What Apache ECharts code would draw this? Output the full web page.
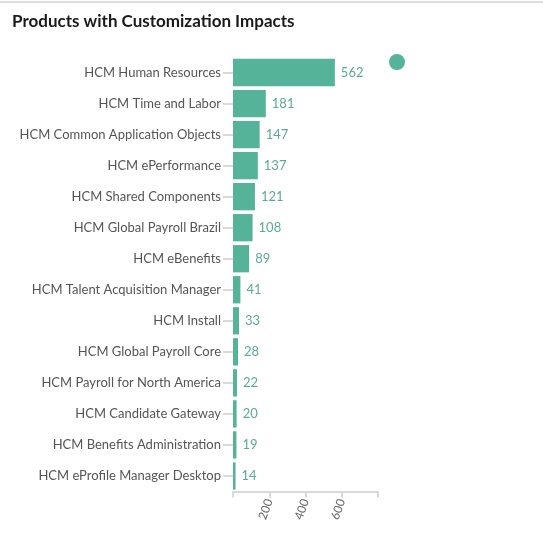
<!DOCTYPE html>
<html>
<head>
<meta charset="utf-8">
<script src="https://cdn.jsdelivr.net/npm/echarts@6/dist/echarts.min.js"></script>
<style>
    html, body { margin: 0; padding: 0; background: #fff; }
    #echarts { width: 543px; height: 549px; }
</style>
</head>
<body>
<div id="echarts"></div>
<script>
    // 数据
    const categories = [
        'HCM Human Resources', 'HCM Time and Labor', 'HCM Common Application Objects',
        'HCM ePerformance', 'HCM Shared Components', 'HCM Global Payroll Brazil',
        'HCM eBenefits', 'HCM Talent Acquisition Manager', 'HCM Install',
        'HCM Global Payroll Core', 'HCM Payroll for North America', 'HCM Candidate Gateway',
        'HCM Benefits Administration', 'HCM eProfile Manager Desktop'
    ];
    const values = [562, 181, 147, 137, 121, 108, 89, 41, 33, 28, 22, 20, 19, 14];
    const xTicks = [0, 200, 400, 600, 800];

    let myChart = echarts.init(document.getElementById('echarts'));
    myChart.setOption({
        animation: false,
        title: {
            text: 'Products with Customization Impacts',
            left: 7, top: 8,
            textStyle: { fontFamily: 'Lato', fontSize: 17, fontWeight: 'bold', color: '#1a1a1a' }
        },
        graphic: [
            { type: 'line', shape: { x1: 0, y1: 2, x2: 543, y2: 2 }, style: { stroke: '#ddd', lineWidth: 2 } },
            { type: 'circle', shape: { cx: 397, cy: 62, r: 8 }, style: { fill: '#55b399' } }
        ],
        grid: { left: 233, right: 165, top: 57, bottom: 57.5 },
        xAxis: {
            type: 'value', min: 0, max: 800, interval: 200,
            axisLine: { show: true, lineStyle: { color: '#d9d9d9', width: 2 } },
            axisTick: { show: true, length: 6, lineStyle: { color: '#d9d9d9', width: 2 } },
            splitLine: { show: false },
            axisLabel: {
                rotate: 70, color: '#666', fontFamily: 'Lato', fontSize: 12,
                formatter: v => (v === 0 || v === 800) ? '' : String(v)
            }
        },
        yAxis: {
            type: 'category', data: categories, inverse: true,
            axisLine: { show: false },
            axisTick: { show: true, length: 10, alignWithLabel: true, lineStyle: { color: '#d9d9d9', width: 2 } },
            axisLabel: { color: '#555', fontFamily: 'Lato', fontSize: 13, margin: 12 }
        },
        series: [{
            type: 'bar', data: values, barCategoryGap: '12%',
            itemStyle: { color: '#55b399' },
            label: { show: true, position: 'right', color: '#5aaa95', fontFamily: 'Lato', fontSize: 13, distance: 6 }
        }]
    });
</script>
</body>
</html>
